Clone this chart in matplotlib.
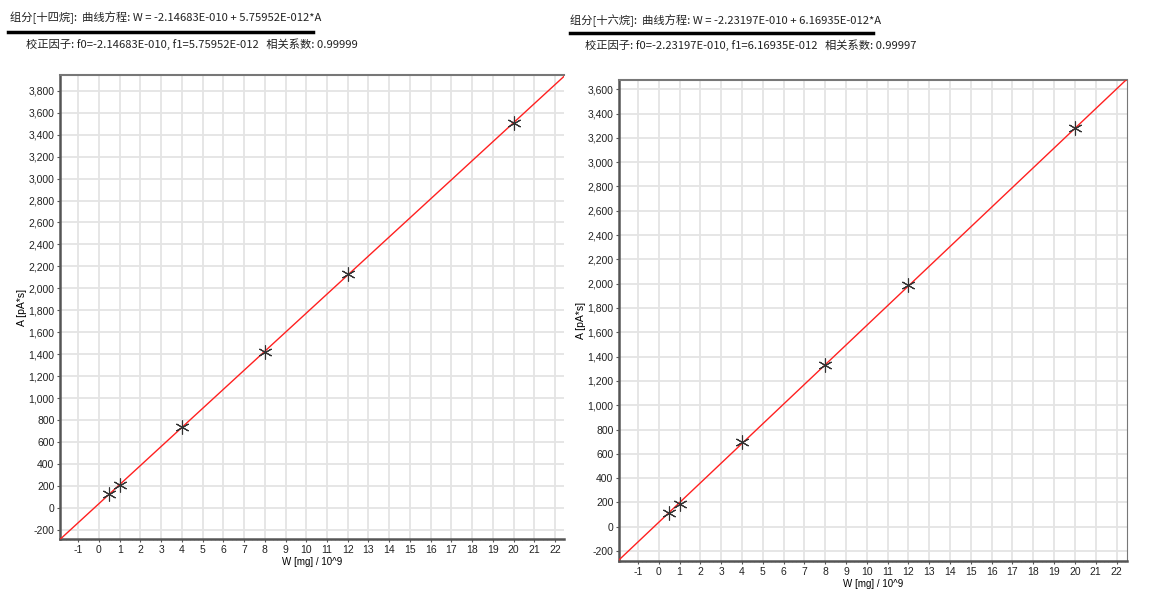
import numpy as np
import matplotlib
matplotlib.use("Agg")
import matplotlib.pyplot as plt
from matplotlib.ticker import FuncFormatter, MultipleLocator

plt.rcParams['font.family'] = ['Noto Sans CJK SC', 'DejaVu Sans']
plt.rcParams['axes.unicode_minus'] = False

# 数据
w_std = [0.5, 1, 4, 8, 12, 20]
a_c14 = [125, 207, 735, 1420, 2130, 3510]
a_c16 = [112, 190, 700, 1330, 1985, 3280]

f0_c14, f1_c14 = -2.14683E-010, 5.75952E-012
f0_c16, f1_c16 = -2.23197E-010, 6.16935E-012

title1_c14 = "组分[十四烷]:  曲线方程: W = -2.14683E-010 + 5.75952E-012*A"
title2_c14 = "校正因子: f0=-2.14683E-010, f1=5.75952E-012   相关系数: 0.99999"
title1_c16 = "组分[十六烷]:  曲线方程: W = -2.23197E-010 + 6.16935E-012*A"
title2_c16 = "校正因子: f0=-2.23197E-010, f1=6.16935E-012   相关系数: 0.99997"

title_font = ['Noto Sans CJK SC', 'DejaVu Sans']
tick_font = ['Liberation Sans', 'DejaVu Sans']

fig = plt.figure(figsize=(11.55, 6.07), dpi=100)


def draw(rect, w, a, f0, f1, xlim, ylim, ytop, right_spine):
    ax = fig.add_axes(rect)
    ax.set_xlim(*xlim)
    ax.set_ylim(*ylim)
    xs = np.array(xlim)
    ax.plot(xs, (xs * 1e-9 - f0) / f1, color='#ff2020', lw=1.0, zorder=3)
    ax.plot(w, a, linestyle='none', marker=(6, 2, 0), markersize=10,
            markeredgecolor='#333333', markeredgewidth=0.8, zorder=4)
    ax.xaxis.set_minor_locator(MultipleLocator(0.2))
    ax.set_xticks(np.arange(-1, 23, 1))
    ax.set_yticks(np.arange(-200, ytop + 1, 200))
    ax.yaxis.set_major_formatter(FuncFormatter(lambda v, p: f"{int(v):,}"))
    ax.grid(True, which='major', color='#e4e4e4', lw=1.3, zorder=0)
    ax.set_axisbelow(True)
    for s in ['left', 'bottom']:
        ax.spines[s].set_color('#555555')
        ax.spines[s].set_linewidth(1.8)
    ax.spines['top'].set_color('#777777')
    ax.spines['top'].set_linewidth(1.5)
    ax.spines['right'].set_visible(right_spine)
    ax.spines['right'].set_color('#777777')
    ax.tick_params(axis='both', which='major', labelsize=7.5, length=2,
                   color='#555555', pad=2, labelcolor='#222222')
    ax.tick_params(axis='x', which='minor', length=1.0, width=0.4, color='#aaaaaa')
    for lab in ax.get_xticklabels() + ax.get_yticklabels():
        lab.set_family(tick_font)
    ax.set_xlabel("W [mg] / 10^9", fontsize=7, labelpad=2,
                  family=['Liberation Sans', 'DejaVu Sans'])
    ax.set_ylabel("A [pA*s]", fontsize=7.5, labelpad=1,
                  family=['Liberation Sans', 'DejaVu Sans'])
    return ax


draw([0.0519, 0.1120, 0.4364, 0.7644], w_std, a_c14, f0_c14, f1_c14,
     (-1.88, 22.43), (-285, 3944), 3800, False)
draw([0.5359, 0.0758, 0.4398, 0.7924], w_std, a_c16, f0_c16, f1_c16,
     (-1.91, 22.5), (-282, 3676), 3600, True)

# 顶部文字
H = 607.0
W = 1155.0
fs = 8.1
fig.text(10 / W, 1 - 18 / H, title1_c14, fontsize=fs, va='center', ha='left',
         color='#222222', family=title_font)
fig.text(26 / W, 1 - 44 / H, title2_c14, fontsize=fs, va='center', ha='left',
         color='#222222', family=title_font)
fig.add_artist(plt.Line2D([8 / W, 313 / W], [1 - 31.5 / H, 1 - 31.5 / H], color='black', lw=2.5))

fig.text(570 / W, 1 - 21 / H, title1_c16, fontsize=fs, va='center', ha='left',
         color='#222222', family=title_font)
fig.text(585 / W, 1 - 45 / H, title2_c16, fontsize=fs, va='center', ha='left',
         color='#222222', family=title_font)
fig.add_artist(plt.Line2D([570 / W, 873 / W], [1 - 33 / H, 1 - 33 / H], color='black', lw=2.5))

fig.savefig("out.png", dpi=100)
